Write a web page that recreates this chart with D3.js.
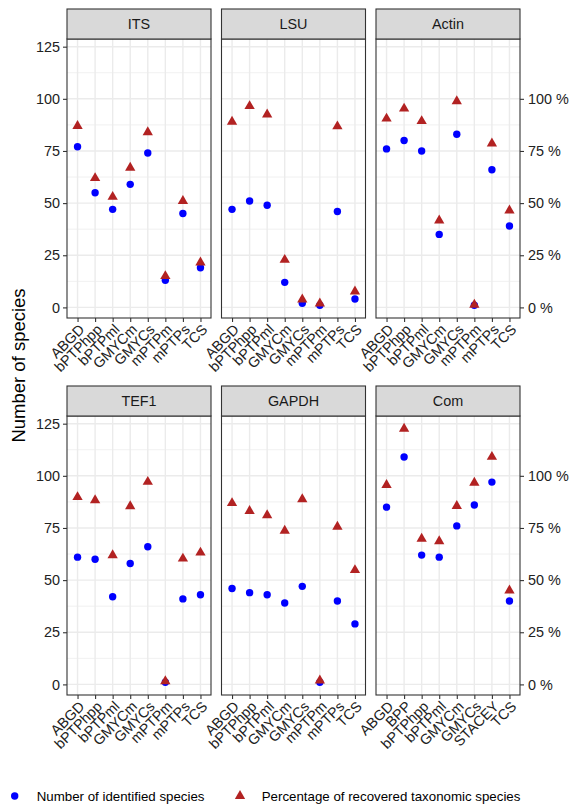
<!DOCTYPE html>
<html>
<head>
<meta charset="utf-8">
<script src="https://cdn.jsdelivr.net/npm/d3@7"></script>
<style>
  body { margin: 0; background: #fff; }
  svg { display: block; font-family: "Liberation Sans", Arial, sans-serif; }
</style>
</head>
<body>
<div id="chart"></div>
<script>
// categories
const panelNames = ['ITS', 'LSU', 'Actin', 'TEF1', 'GAPDH', 'Com'];
const methods = ['ABGD', 'bPTPhpp', 'bPTPml', 'GMYCm', 'GMYCs', 'mPTPm', 'mPTPs', 'TCS'];
const comMethods = ['ABGD', 'BPP', 'bPTPhpp', 'bPTPml', 'GMYCm', 'GMYCs', 'STACEY', 'TCS'];

// number of identified species, per panel
const itsSpecies   = [77, 55, 47, 59, 74, 13, 45, 19];
const lsuSpecies   = [47, 51, 49, 12, 2, 1, 46, 4];
const actinSpecies = [76, 80, 75, 35, 83, 1, 66, 39];
const tef1Species  = [61, 60, 42, 58, 66, 1, 41, 43];
const gapdhSpecies = [46, 44, 43, 39, 47, 1, 40, 29];
const comSpecies   = [85, 109, 62, 61, 76, 86, 97, 40];

// percentage of recovered taxonomic species, per panel
const itsPercent   = [87, 62, 53, 67, 84, 15, 51, 21.5];
const lsuPercent   = [89, 96.5, 92.5, 22.8, 3.8, 1.9, 86.8, 7.6];
const actinPercent = [90.5, 95.3, 89.3, 41.7, 98.8, 1.3, 78.6, 46.5];
const tef1Percent  = [89.8, 88.3, 61.9, 85.4, 97.1, 1.5, 60.3, 63.2];
const gapdhPercent = [86.9, 83.1, 81.1, 73.7, 88.8, 1.9, 75.6, 54.8];
const comPercent   = [95.6, 122.6, 69.8, 68.6, 85.5, 96.7, 109.1, 45];

const countTicks = [0, 25, 50, 75, 100, 125];
const percentTicks = [0, 25, 50, 75, 100];

const legendLabels = ['Number of identified species', 'Percentage of recovered taxonomic species'];

const panels = [
  { name: panelNames[0], cats: methods,    species: itsSpecies,   percent: itsPercent },
  { name: panelNames[1], cats: methods,    species: lsuSpecies,   percent: lsuPercent },
  { name: panelNames[2], cats: methods,    species: actinSpecies, percent: actinPercent },
  { name: panelNames[3], cats: methods,    species: tef1Species,  percent: tef1Percent },
  { name: panelNames[4], cats: methods,    species: gapdhSpecies, percent: gapdhPercent },
  { name: panelNames[5], cats: comMethods, species: comSpecies,   percent: comPercent }
];

const width = 580, height = 805;
const colX = [67, 221.5, 376];
const panelW = 144;
const stripTop = [9, 386];
const stripH = 30;
const plotH = 279;

const blue = '#0000FF', red = '#B22222';
const grid = '#EBEBEB', border = '#333333', textCol = '#222222';
const fs = 14.4;
const font = '"Liberation Sans", Arial, sans-serif';

// shared y domain with ggplot-like 5% expansion
const allVals = panels.flatMap(p => p.species.concat(p.percent));
const yMin = d3.min(allVals), yMax = d3.max(allVals);
const pad = (yMax - yMin) * 0.05;

const svg = d3.select('#chart').append('svg')
  .attr('width', width)
  .attr('height', height);

panels.forEach((p, i) => {
  const col = i % 3, row = Math.floor(i / 3);
  const x0 = colX[col];
  const top = stripTop[row] + stripH;

  const x = d3.scalePoint().domain(p.cats).range([x0, x0 + panelW]).padding(0.6);
  const y = d3.scaleLinear().domain([yMin - pad, yMax + pad]).range([top + plotH, top]);

  const g = svg.append('g');

  // panel background + grid
  g.append('rect')
    .attr('x', x0).attr('y', top).attr('width', panelW).attr('height', plotH)
    .attr('fill', '#fff');

  const minor = countTicks.slice(0, -1).map(t => t + 12.5);
  g.selectAll('.minor').data(minor).enter().append('line')
    .attr('x1', x0).attr('x2', x0 + panelW)
    .attr('y1', d => y(d)).attr('y2', d => y(d))
    .attr('stroke', grid).attr('stroke-width', 0.7);

  g.selectAll('.hmajor').data(countTicks).enter().append('line')
    .attr('x1', x0).attr('x2', x0 + panelW)
    .attr('y1', d => y(d)).attr('y2', d => y(d))
    .attr('stroke', grid).attr('stroke-width', 1.4);

  g.selectAll('.vmajor').data(p.cats).enter().append('line')
    .attr('x1', d => x(d)).attr('x2', d => x(d))
    .attr('y1', top).attr('y2', top + plotH)
    .attr('stroke', grid).attr('stroke-width', 1.4);

  // points
  g.selectAll('.sp').data(p.cats).enter().append('circle')
    .attr('cx', d => x(d))
    .attr('cy', (d, j) => y(p.species[j]))
    .attr('r', 3.7)
    .attr('fill', blue);

  g.selectAll('.pc').data(p.cats).enter().append('path')
    .attr('d', d3.symbol().type(d3.symbolTriangle).size(46))
    .attr('transform', (d, j) => `translate(${x(d)},${y(p.percent[j])})`)
    .attr('fill', red);

  // panel border
  g.append('rect')
    .attr('x', x0).attr('y', top).attr('width', panelW).attr('height', plotH)
    .attr('fill', 'none').attr('stroke', border).attr('stroke-width', 1.1);

  // strip
  g.append('rect')
    .attr('x', x0).attr('y', stripTop[row]).attr('width', panelW).attr('height', stripH)
    .attr('fill', '#D9D9D9').attr('stroke', border).attr('stroke-width', 1.1);
  g.append('text')
    .attr('x', x0 + panelW / 2).attr('y', stripTop[row] + stripH / 2)
    .attr('dy', '0.36em')
    .attr('text-anchor', 'middle')
    .attr('font-size', fs)
    .attr('fill', '#1A1A1A')
    .text(p.name);

  // x axis
  const xAxis = g.append('g')
    .attr('transform', `translate(0,${top + plotH})`)
    .call(d3.axisBottom(x).tickSize(4).tickPadding(3));
  xAxis.select('.domain').remove();
  xAxis.selectAll('line').attr('stroke', border).attr('stroke-width', 1.1);
  xAxis.selectAll('text')
    .attr('font-size', fs)
    .attr('font-family', font)
    .attr('fill', textCol)
    .attr('text-anchor', 'end')
    .attr('dy', '0.72em')
    .attr('transform', 'translate(0,5) rotate(-45)')
    .attr('y', 0).attr('x', 0);

  // left axis on first column
  if (col === 0) {
    const yAxis = g.append('g')
      .attr('transform', `translate(${x0},0)`)
      .call(d3.axisLeft(y).tickValues(countTicks).tickSize(4).tickPadding(3));
    yAxis.select('.domain').remove();
    yAxis.selectAll('line').attr('stroke', border).attr('stroke-width', 1.1);
    yAxis.selectAll('text')
      .attr('font-size', fs)
      .attr('font-family', font)
      .attr('fill', textCol);
  }

  // secondary axis on last column
  if (col === 2) {
    const yAxis2 = g.append('g')
      .attr('transform', `translate(${x0 + panelW},0)`)
      .call(d3.axisRight(y).tickValues(percentTicks).tickSize(4).tickPadding(4)
        .tickFormat(d => d + ' %'));
    yAxis2.select('.domain').remove();
    yAxis2.selectAll('line').attr('stroke', border).attr('stroke-width', 1.1);
    yAxis2.selectAll('text')
      .attr('font-size', fs)
      .attr('font-family', font)
      .attr('fill', textCol);
  }
});

// y axis title
svg.append('text')
  .attr('transform', 'translate(25,365.5) rotate(-90)')
  .attr('text-anchor', 'middle')
  .attr('font-size', 18.5)
  .attr('fill', '#000')
  .text('Number of species');

// legend
const legend = svg.append('g').attr('transform', 'translate(0,796)');
legend.append('circle').attr('cx', 14.7).attr('cy', 0).attr('r', 3.7).attr('fill', blue);
legend.append('text').attr('x', 36.7).attr('y', 0).attr('dy', '0.36em')
  .attr('font-size', 13.3).attr('fill', '#000').text(legendLabels[0]);
legend.append('path')
  .attr('d', d3.symbol().type(d3.symbolTriangle).size(46))
  .attr('transform', 'translate(240,0)')
  .attr('fill', red);
legend.append('text').attr('x', 261.7).attr('y', 0).attr('dy', '0.36em')
  .attr('font-size', 13.3).attr('fill', '#000').text(legendLabels[1]);
</script>
</body>
</html>
